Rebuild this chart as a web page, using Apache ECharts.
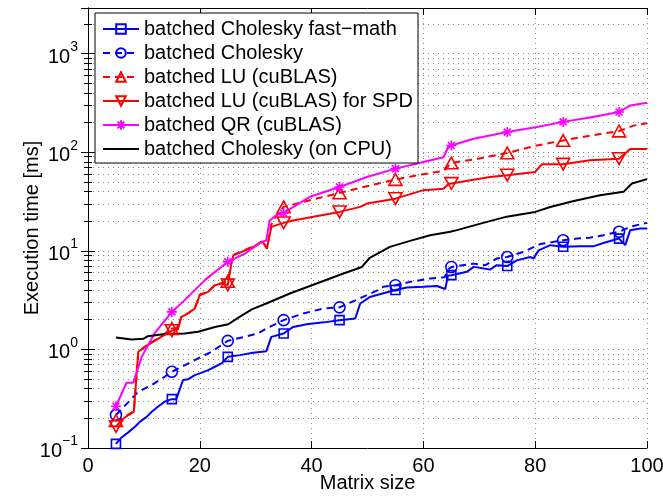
<!DOCTYPE html>
<html>
<head>
<meta charset="utf-8">
<title>Execution time</title>
<script src="https://cdn.jsdelivr.net/npm/echarts@6/dist/echarts.min.js"></script>
<style>
html, body { margin: 0; padding: 0; background: #fff; }
#MyChart { width: 663px; height: 497px; }
</style>
</head>
<body>
<div id="MyChart"></div>
<script>
// matrix sizes that carry a marker
var markX = [5, 15, 25, 35, 45, 55, 65, 75, 85, 95];

// batched Cholesky fast-math
var fastX = [5, 6, 7.2, 8.4, 9.3, 10.5, 11.4, 12.5, 13.7, 15, 15.8, 17, 17.9, 19.1, 20, 21.5, 22.7, 23.9, 25, 27.2, 29.5, 31.9, 32.8, 35, 36.7, 39.1, 42.2, 45, 47.8, 48.7, 49.6, 50.4, 55, 57, 60, 62.4, 63.9, 64.4, 65, 67.8, 69, 71.9, 73.1, 75, 76.7, 79.1, 79.7, 80.6, 82.7, 85, 88, 90.4, 92.2, 95, 96.1, 97, 98.8, 100];
var fastY = [0.11, 0.128, 0.144, 0.164, 0.185, 0.207, 0.233, 0.262, 0.295, 0.313, 0.313, 0.489, 0.497, 0.549, 0.571, 0.617, 0.667, 0.72, 0.84, 0.875, 0.924, 0.96, 1.34, 1.45, 1.69, 1.8, 1.88, 1.98, 2.06, 2.92, 3.16, 3.4, 4.0, 4.25, 4.31, 4.4, 4.1, 5.6, 5.66, 6.13, 6.87, 6.45, 7.15, 7.0, 8.0, 8.67, 8.35, 10.1, 11.4, 11.0, 11.1, 11.1, 12.0, 13.3, 11.4, 16.2, 16.8, 16.8];

// batched Cholesky
var cholX = [5, 9, 11.4, 13.7, 15, 19.7, 22.1, 25, 30.4, 31.9, 35, 38.5, 42.1, 45, 49.2, 51.9, 52.8, 55, 57.6, 61.2, 63.8, 64.5, 65, 69, 71.1, 73.1, 75, 77.9, 80.9, 85, 87.5, 89.8, 92.2, 95, 97, 99.4, 100];
var cholY = [0.216, 0.372, 0.435, 0.528, 0.593, 0.81, 0.946, 1.22, 1.45, 1.63, 1.98, 2.31, 2.6, 2.67, 3.41, 4.0, 4.31, 4.48, 4.84, 5.24, 5.4, 6.5, 6.86, 7.41, 7.15, 8.35, 8.66, 9.75, 11.7, 12.8, 13.3, 13.6, 14.4, 15.6, 17.5, 18.9, 19.2];

// batched LU (cuBLAS)
var luX = [5, 6, 7.2, 8.2, 9, 10.2, 11.6, 13.1, 15, 16.1, 16.7, 17.9, 19.1, 20, 21.5, 22.7, 23.9, 25, 25.7, 26, 28.1, 30.2, 31.2, 32, 32.8, 33.7, 35, 39.7, 45, 49.9, 55, 60, 63.6, 65, 69, 75, 80.3, 85, 89.8, 95, 97.6, 100];
var luY = [0.19, 0.197, 0.218, 0.236, 0.95, 1.07, 1.2, 1.36, 1.63, 1.65, 2.16, 2.33, 2.62, 3.58, 3.86, 4.5, 4.7, 4.9, 7.8, 9.1, 10.2, 11.5, 12.6, 10.6, 18.5, 23, 27.9, 32.6, 38.6, 45.2, 52.8, 59.9, 64.6, 77.8, 84.2, 98.2, 117, 131.7, 147, 164, 186, 197];

// batched LU (cuBLAS) for SPD
var spdX = [5, 6, 7.2, 8.2, 9, 10.2, 11.6, 13.1, 15, 16.1, 16.7, 17.9, 19.1, 20, 21.5, 22.7, 23.9, 25, 25.7, 26, 28.1, 30.2, 31.2, 32, 32.8, 35, 36.7, 40.3, 45, 48.7, 49.9, 55, 60, 63.6, 64.5, 65, 71.9, 75, 80, 81.2, 85, 89.8, 95, 97, 100];
var spdY = [0.165, 0.192, 0.216, 0.233, 0.946, 1.06, 1.19, 1.34, 1.55, 1.6, 2.14, 2.31, 2.6, 3.55, 3.83, 4.48, 4.66, 4.5, 7.73, 9.0, 10.1, 11.4, 12.5, 10.5, 17.5, 19.2, 20.3, 22.2, 24.8, 27.9, 30.1, 33.8, 41.2, 42.7, 47.5, 48.2, 56, 58.5, 63.1, 75.5, 75.5, 83, 86, 108, 108];

// batched QR (cuBLAS)
var qrX = [5, 6.9, 8.1, 9.6, 11.9, 15, 17.3, 20.9, 25, 28.1, 30.7, 31.9, 32.5, 33.7, 35, 39.7, 45, 49.9, 55, 60, 63.6, 64.5, 65, 69, 75, 80.3, 85, 89.8, 95, 97, 100];
var qrY = [0.265, 0.459, 0.459, 0.84, 1.45, 2.4, 3.16, 5.04, 7.73, 9.38, 11.9, 12.8, 20.3, 22.9, 24.2, 35.3, 44.4, 56.1, 68.1, 79.6, 89, 115, 117, 137, 160, 180, 203, 225, 256, 297, 317];

// batched Cholesky (on CPU)
var cpuX = [5, 7.8, 9.9, 10.7, 13.7, 17.3, 19.7, 22.7, 25.1, 26.9, 29.3, 31.9, 36.1, 40.9, 43.3, 45.7, 49, 50.4, 54, 57.6, 61.2, 64.8, 66, 70.7, 74.9, 80, 82.7, 86.9, 91.6, 95.8, 97.3, 100];
var cpuY = [1.32, 1.26, 1.28, 1.36, 1.43, 1.45, 1.51, 1.69, 1.8, 2.1, 2.55, 2.92, 3.69, 4.66, 5.24, 5.89, 6.86, 8.5, 10.96, 12.6, 14.4, 15.6, 16.2, 19.2, 22.2, 24.8, 27.8, 32, 36.6, 39.6, 48.2, 53.3];

var FONT = '"Liberation Sans", Arial, Helvetica, sans-serif';
var BLUE = '#0000ff', RED = '#ff0000', MAGENTA = '#ff00ff', BLACK = '#000000';
var NONE = 'rgba(0,0,0,0)';

// only the marker sizes get a symbol, the rest is plain line
function pts(xs, ys) {
	return xs.map(function(x, i) {
		if (markX.indexOf(x) >= 0) return [x, ys[i]];
		return { value: [x, ys[i]], symbol: 'none' };
	});
}

function yLabel(v) {
	var e = Math.log(v) / Math.LN10;
	var r = Math.round(e);
	if (Math.abs(e - r) > 0.001) return '';
	return '{b|10}{s|' + (r < 0 ? '\u2212' + (-r) : r) + '}';
}

function mkSeries(name, xs, ys, color, dashed, symbol, size) {
	return {
		name: name,
		type: 'line',
		data: pts(xs, ys),
		symbol: symbol,
		symbolSize: size,
		symbolKeepAspect: true,
		lineStyle: { color: color, width: 2, type: dashed ? [7, 5] : 'solid' },
		itemStyle: { color: NONE, borderColor: color, borderWidth: 1.6 },
		emphasis: { disabled: true },
		z: 3
	};
}

var sideY = {
	type: 'log',
	min: 0.1,
	max: 2900,
	axisLine: { show: true, lineStyle: { color: BLACK, width: 1 } },
	axisTick: { show: true, inside: true, length: 7, lineStyle: { color: BLACK } },
	minorTick: { show: true, splitNumber: 9, length: 4, lineStyle: { color: BLACK } }
};

var option = {
	animation: false,
	backgroundColor: '#fff',
	textStyle: { fontFamily: FONT },
	grid: { left: 88, right: 16, top: 8, bottom: 49, containLabel: false, outerBoundsMode: 'none' },
	legend: {
		left: 95,
		top: 13,
		orient: 'vertical',
		padding: [4, 5, 2, 7],
		itemGap: 0,
		itemWidth: 36,
		itemHeight: 12,
		backgroundColor: '#fff',
		borderColor: BLACK,
		borderWidth: 1,
		borderRadius: 0,
		textStyle: { fontSize: 20, color: BLACK, fontFamily: FONT, lineHeight: 24 },
		data: ['batched Cholesky fast\u2212math', 'batched Cholesky', 'batched LU (cuBLAS)',
			'batched LU (cuBLAS) for SPD', 'batched QR (cuBLAS)',
			{ name: 'batched Cholesky (on CPU)', itemStyle: { color: NONE, borderColor: NONE, borderWidth: 0 } }]
	},
	xAxis: [{
		type: 'value',
		min: 0,
		max: 100,
		interval: 20,
		name: 'Matrix size',
		nameLocation: 'middle',
		nameGap: 25,
		nameMoveOverlap: false,
		nameTextStyle: { fontSize: 20, color: BLACK, fontFamily: FONT },
		axisLine: { show: true, onZero: false, lineStyle: { color: BLACK, width: 1 } },
		axisTick: { show: true, inside: true, length: 7, lineStyle: { color: BLACK } },
		axisLabel: { fontSize: 20, color: BLACK, margin: 8, fontFamily: FONT },
		splitLine: { show: true, lineStyle: { color: '#888', type: [1, 4] } }
	}, {
		type: 'value',
		position: 'top',
		min: 0,
		max: 100,
		interval: 20,
		axisLine: { show: true, onZero: false, lineStyle: { color: BLACK, width: 1 } },
		axisTick: { show: true, inside: true, length: 7, lineStyle: { color: BLACK } },
		axisLabel: { show: false },
		splitLine: { show: false }
	}],
	yAxis: [{
		type: 'log',
		min: 0.1,
		max: 2900,
		name: 'Execution time [ms]',
		nameLocation: 'middle',
		nameGap: 46,
		nameMoveOverlap: false,
		nameTextStyle: { fontSize: 20, color: BLACK, fontFamily: FONT },
		axisLine: { show: true, lineStyle: { color: BLACK, width: 1 } },
		axisTick: { show: true, inside: true, length: 7, lineStyle: { color: BLACK } },
		minorTick: { show: true, splitNumber: 9, length: 4, lineStyle: { color: BLACK } },
		axisLabel: {
			formatter: yLabel,
			margin: 10,
			color: BLACK,
			rich: {
				b: { fontSize: 20, color: BLACK, fontFamily: FONT, padding: [7, 0, 0, 0] },
				s: { fontSize: 14, color: BLACK, fontFamily: FONT, verticalAlign: 'top' }
			}
		},
		splitLine: { show: true, lineStyle: { color: '#888', type: [1, 4] } },
		minorSplitLine: { show: true, lineStyle: { color: '#888', type: [1, 4] } }
	}, Object.assign({ position: 'right', axisLabel: { show: false }, splitLine: { show: false } }, sideY)],
	series: [
		mkSeries('batched Cholesky fast\u2212math', fastX, fastY, BLUE, false, 'rect', 9),
		mkSeries('batched Cholesky', cholX, cholY, BLUE, true, 'circle', 11),
		mkSeries('batched LU (cuBLAS)', luX, luY, RED, true, 'path://M5,0L10,9L0,9Z', 13),
		mkSeries('batched LU (cuBLAS) for SPD', spdX, spdY, RED, false, 'path://M0,0L10,0L5,9Z', 13),
		mkSeries('batched QR (cuBLAS)', qrX, qrY, MAGENTA, false, 'path://M5,0L5,10M0,5L10,5M1.5,1.5L8.5,8.5M1.5,8.5L8.5,1.5', 10),
		mkSeries('batched Cholesky (on CPU)', cpuX, cpuY, BLACK, false, 'none', 1)
	]
};

var myChart1 = echarts.init(document.getElementById('MyChart'));
myChart1.setOption(option);
</script>
</body>
</html>
